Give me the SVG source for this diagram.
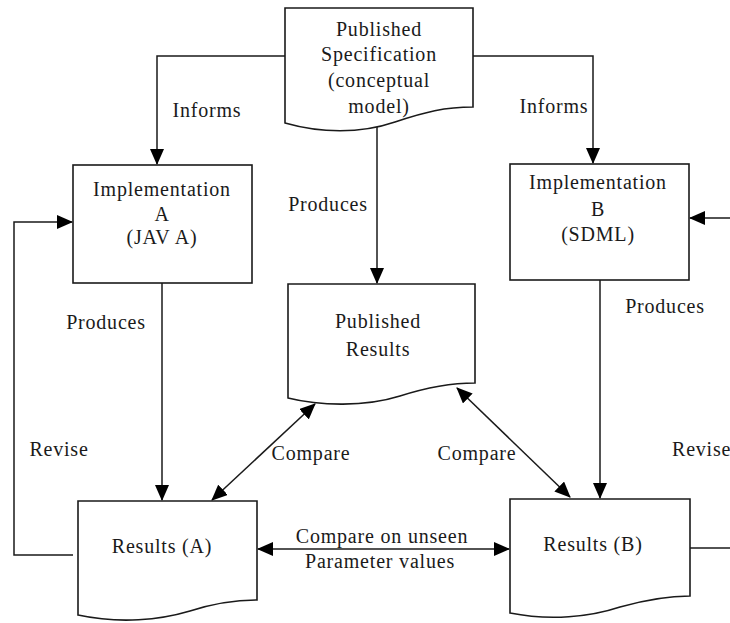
<svg xmlns="http://www.w3.org/2000/svg" width="730" height="623" viewBox="0 0 730 623">
<defs>
<style>
.t{font-family:"Liberation Serif","Times New Roman",serif;font-size:20px;fill:#1a1a1a;text-anchor:middle;letter-spacing:0.8px}
.s{fill:#fff;stroke:#1a1a1a;stroke-width:1.6}
.c{fill:none;stroke:#1a1a1a;stroke-width:1.5}
</style>
<marker id="ah" markerUnits="userSpaceOnUse" markerWidth="16" markerHeight="14" refX="15" refY="7" orient="auto-start-reverse" viewBox="0 0 16 14">
<path d="M0,0 L16,7 L0,14 Z" fill="#000"/>
</marker>
</defs>
<rect width="730" height="623" fill="#fff"/>
<g id="connectors">
<polyline class="c" points="285,56 157,56 157,164" marker-end="url(#ah)"/>
<polyline class="c" points="473,56 593,56 593,163" marker-end="url(#ah)"/>
<line class="c" x1="377" y1="127" x2="377" y2="283" marker-end="url(#ah)"/>
<line class="c" x1="162" y1="283" x2="162" y2="500" marker-end="url(#ah)"/>
<line class="c" x1="600" y1="280" x2="600" y2="498" marker-end="url(#ah)"/>
<polyline class="c" points="73,555 14,555 14,222 72,222" marker-end="url(#ah)"/>
<line class="c" x1="690" y1="548" x2="730" y2="548"/>
<line class="c" x1="730" y1="218" x2="690" y2="218" marker-end="url(#ah)"/>
<line class="c" x1="212" y1="500" x2="315" y2="404" marker-start="url(#ah)" marker-end="url(#ah)"/>
<line class="c" x1="570" y1="497" x2="457" y2="388" marker-start="url(#ah)" marker-end="url(#ah)"/>
<line class="c" x1="258" y1="549" x2="509" y2="549" marker-start="url(#ah)" marker-end="url(#ah)"/>
</g>
<g id="spec">
<path class="s" d="M285,8 H473 V107 C445,107 425,112 395,122 C360,134 320,133 285,123 Z"/>
<text class="t" x="379" y="36">Published</text>
<text class="t" x="379" y="61">Specification</text>
<text class="t" x="379" y="87">(conceptual</text>
<text class="t" x="379" y="113">model)</text>
</g>
<g id="implA">
<rect class="s" x="73" y="165" width="179" height="118"/>
<text class="t" x="162" y="196">Implementation</text>
<text class="t" x="162" y="221">A</text>
<text class="t" x="162" y="244">(JAV A)</text>
</g>
<g id="implB">
<rect class="s" x="510" y="164" width="179" height="116"/>
<text class="t" x="598" y="189">Implementation</text>
<text class="t" x="598" y="216">B</text>
<text class="t" x="598" y="241">(SDML)</text>
</g>
<g id="pubResults">
<path class="s" d="M288,284 H475 V383 C448,383 425,388 400,396 C365,407 320,406 288,398 Z"/>
<text class="t" x="378" y="328">Published</text>
<text class="t" x="378" y="356">Results</text>
</g>
<g id="resultsA">
<path class="s" d="M78,501 H257 V600 C235,600 215,603 190,611 C160,620 120,624 78,615 Z"/>
<text class="t" x="162" y="553">Results (A)</text>
</g>
<g id="resultsB">
<path class="s" d="M510,499 H690 V596 C665,596 645,600 620,607 C590,617 550,621 510,613 Z"/>
<text class="t" x="593" y="551">Results (B)</text>
</g>
<g id="labels">
<text class="t" x="207" y="117">Informs</text>
<text class="t" x="554" y="113">Informs</text>
<text class="t" x="328" y="211">Produces</text>
<text class="t" x="106" y="329">Produces</text>
<text class="t" x="665" y="313">Produces</text>
<text class="t" x="59" y="456">Revise</text>
<text class="t" x="672" y="456" style="text-anchor:start">Revise</text>
<text class="t" x="311" y="460">Compare</text>
<text class="t" x="477" y="460">Compare</text>
<text class="t" x="382" y="543">Compare on unseen</text>
<text class="t" x="380" y="568">Parameter values</text>
</g>
</svg>
